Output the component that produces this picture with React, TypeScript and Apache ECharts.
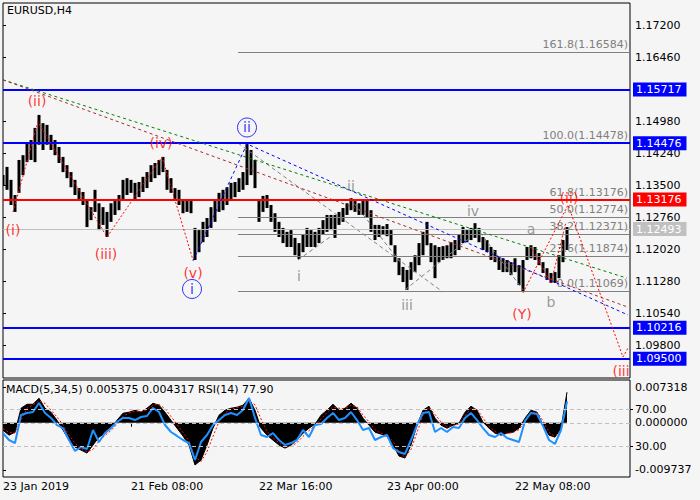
import React, { useEffect, useRef } from 'react';
import * as echarts from 'echarts';

const FONT = '"DejaVu Sans", sans-serif';

// ---- price data (H4 bars, sampled every BAR_STEP bars) ----
const BAR_STEP = 4;
const PRICE_HIGH = [
  1.1374, 1.1393, 1.1363, 1.1328, 1.1409, 1.1420, 1.1448, 1.1455, 1.1483, 1.1513,
  1.1494, 1.1490, 1.1467, 1.1455, 1.1439, 1.1416, 1.1397, 1.1381, 1.1363, 1.1344,
  1.1335, 1.1316, 1.1300, 1.1340, 1.1309, 1.1300, 1.1289, 1.1309, 1.1316, 1.1328,
  1.1363, 1.1367, 1.1363, 1.1356, 1.1358, 1.1370, 1.1381, 1.1397, 1.1402, 1.1409,
  1.1416, 1.1386, 1.1367, 1.1344, 1.1340, 1.1316, 1.1316, 1.1316, 1.1252, 1.1247,
  1.1266, 1.1275, 1.1300, 1.1316, 1.1333, 1.1340, 1.1346, 1.1356, 1.1358, 1.1367,
  1.1381, 1.1448, 1.1432, 1.1409, 1.1316, 1.1326, 1.1328, 1.1305, 1.1286, 1.1266,
  1.1252, 1.1243, 1.1247, 1.1229, 1.1217, 1.1236, 1.1252, 1.1247, 1.1243, 1.1252,
  1.1270, 1.1282, 1.1282, 1.1282, 1.1289, 1.1298, 1.1309, 1.1321, 1.1316, 1.1309,
  1.1316, 1.1316, 1.1293, 1.1259, 1.1259, 1.1256, 1.1261, 1.1247, 1.1212, 1.1182,
  1.1162, 1.1155, 1.1173, 1.1189, 1.1217, 1.1243, 1.1266, 1.1217, 1.1212, 1.1208,
  1.1210, 1.1212, 1.1219, 1.1224, 1.1236, 1.1254, 1.1247, 1.1252, 1.1263, 1.1252,
  1.1231, 1.1224, 1.1208, 1.1201, 1.1185, 1.1182, 1.1178, 1.1173, 1.1182, 1.1166,
  1.1178, 1.1208, 1.1212, 1.1208, 1.1194, 1.1173, 1.1159, 1.1148, 1.1150, 1.1189,
  1.1224, 1.1254,
];
const PRICE_LOW = [
  1.1351, 1.1340, 1.1305, 1.1289, 1.1333, 1.1374, 1.1404, 1.1409, 1.1404, 1.1444,
  1.1432, 1.1444, 1.1432, 1.1420, 1.1402, 1.1381, 1.1367, 1.1346, 1.1328, 1.1316,
  1.1305, 1.1254, 1.1270, 1.1289, 1.1247, 1.1259, 1.1231, 1.1266, 1.1282, 1.1293,
  1.1316, 1.1328, 1.1333, 1.1316, 1.1323, 1.1335, 1.1344, 1.1358, 1.1367, 1.1374,
  1.1381, 1.1340, 1.1333, 1.1316, 1.1305, 1.1286, 1.1289, 1.1286, 1.1178, 1.1196,
  1.1219, 1.1231, 1.1252, 1.1266, 1.1289, 1.1293, 1.1305, 1.1316, 1.1323, 1.1335,
  1.1340, 1.1351, 1.1374, 1.1344, 1.1266, 1.1289, 1.1298, 1.1266, 1.1243, 1.1231,
  1.1217, 1.1208, 1.1208, 1.1189, 1.1180, 1.1196, 1.1208, 1.1208, 1.1208, 1.1217,
  1.1236, 1.1243, 1.1247, 1.1229, 1.1259, 1.1266, 1.1282, 1.1293, 1.1289, 1.1282,
  1.1282, 1.1277, 1.1243, 1.1224, 1.1231, 1.1236, 1.1233, 1.1212, 1.1173, 1.1143,
  1.1127, 1.1109, 1.1132, 1.1150, 1.1166, 1.1189, 1.1212, 1.1173, 1.1136, 1.1173,
  1.1178, 1.1182, 1.1182, 1.1189, 1.1201, 1.1217, 1.1219, 1.1224, 1.1229, 1.1219,
  1.1201, 1.1196, 1.1178, 1.1173, 1.1155, 1.1150, 1.1150, 1.1143, 1.1150, 1.1120,
  1.1104, 1.1178, 1.1182, 1.1178, 1.1166, 1.1148, 1.1132, 1.1125, 1.1125, 1.1136,
  1.1173, 1.1201,
];

// ---- indicator data (sampled every IND_STEP bars) ----
const IND_STEP = 6;
const MACD = [
  -0.00152, -0.00255, -0.00193, 0.003, 0.00382, 0.00382, 0.00506, 0.003, 0.00218, 0.00053,
  -0.00152, -0.00358, -0.00501, -0.00563, -0.00625, -0.0046, -0.00296, -0.00214, -0.00111, 0.00053,
  0.00197, 0.00218, 0.00259, 0.00218, 0.003, 0.00403, 0.00362, 0.00218, 0.00053, -0.00111,
  -0.00275, -0.0046, -0.00871, -0.00769, -0.0046, -0.00111, 0.00156, 0.00259, 0.003, 0.00321,
  0.00362, 0.00506, 0.00259, -0.00111, -0.00255, -0.00358, -0.0046, -0.00522, -0.0046, -0.00358,
  -0.00214, -0.00111, -0.00029, 0.00156, 0.00259, 0.00382, 0.00259, 0.003, 0.00403, 0.003,
  0.00095, -0.00049, -0.00193, -0.00234, -0.00275, -0.0046, -0.00686, -0.00727, -0.0046, -0.00049,
  0.00259, 0.00341, 0.00095, -0.00049, -0.00111, -0.00049, -0.00008, 0.00218, 0.00341, 0.00259,
  0.00012, -0.00111, -0.00214, -0.00255, -0.00214, -0.00193, -0.00111, 0.00095, 0.00259, 0.00218,
  -0.00049, -0.00255, -0.00296, -0.00111, 0.0063,
];
const SIGNAL = [
  -0.0012, -0.002, -0.0021, 0.0005, 0.003, 0.0037, 0.0045, 0.004, 0.0026, 0.0012,
  -0.0004, -0.0025, -0.0042, -0.0053, -0.006, -0.0055, -0.0038, -0.0026, -0.0016, -0.0003,
  0.0013, 0.002, 0.0024, 0.0023, 0.0027, 0.0036, 0.0038, 0.0029, 0.0013, -0.0003,
  -0.002, -0.0038, -0.007, -0.008, -0.006, -0.0028, 0.0002, 0.002, 0.0028, 0.0031,
  0.0034, 0.0045, 0.0037, 0.0008, -0.0018, -0.0031, -0.0041, -0.005, -0.0049, -0.0041,
  -0.0028, -0.0016, -0.0006, 0.0008, 0.0021, 0.0033, 0.003, 0.0029, 0.0036, 0.0033,
  0.0016, 0.0002, -0.0014, -0.0022, -0.0026, -0.0038, -0.006, -0.0071, -0.0055, -0.002,
  0.0015, 0.0032, 0.0017, 0.0002, -0.0008, -0.0006, -0.0002, 0.0014, 0.003, 0.0028,
  0.001, -0.0007, -0.0018, -0.0024, -0.0022, -0.002, -0.0014, 0.0003, 0.002, 0.0022,
  0.0004, -0.002, -0.0028, -0.0017, 0.004317,
];
const RSI = [
  44.5, 37.1, 33.9, 63.6, 65.8, 66.8, 76.4, 65.8, 60.5, 53.0,
  49.8, 37.1, 25.4, 29.7, 27.6, 47.7, 35.0, 44.5, 49.8, 56.2,
  60.5, 60.5, 58.3, 61.5, 62.6, 71.1, 66.8, 53.0, 45.6, 41.4,
  37.1, 33.9, 15.9, 35.0, 42.4, 53.0, 58.3, 63.6, 65.8, 63.6,
  68.9, 81.7, 60.5, 42.4, 40.3, 44.5, 37.1, 31.8, 33.9, 37.1,
  47.7, 40.3, 53.0, 54.1, 60.5, 65.8, 58.3, 60.5, 66.8, 58.3,
  47.7, 49.8, 37.1, 40.3, 42.4, 28.6, 24.4, 22.3, 37.1, 53.0,
  65.8, 66.8, 45.6, 49.8, 45.6, 50.9, 49.8, 60.5, 65.8, 58.3,
  49.8, 42.4, 40.3, 44.5, 39.2, 37.1, 35.0, 57.3, 65.8, 64.7,
  52.0, 37.1, 32.9, 47.7, 77.9,
];

// ---- axes ----
const X_MAX = 627;
const PRICE_MIN = 1.09054;
const PRICE_MAX = 1.17715;
const PRICE_TICKS = [1.098, 1.1054, 1.1128, 1.1202, 1.1276, 1.135, 1.1424, 1.1498, 1.1646, 1.172];
const TIME_TICKS = [0, 128, 256, 384, 512];
const TIME_LABELS = ['23 Jan 2019', '21 Feb 08:00', '22 Mar 16:00', '23 Apr 00:00', '22 May 08:00'];
const MACD_MIN = -0.011181;
const MACD_MAX = 0.008823;
const MACD_TICKS = [-0.009737, 0, 0.007318];
const RSI_MIN = -2.15;
const RSI_MAX = 100.77;
const RSI_LEVELS = [30, 70];

// ---- horizontal levels ----
const LEVEL_BLUE = [1.15717, 1.14476, 1.10216, 1.095];
const LEVEL_RED = [1.13176];
const LEVEL_CURRENT = [1.12493];

// ---- fibonacci ----
const FIB_START = 235;
const FIB_PCT = [161.8, 100.0, 61.8, 50.0, 38.2, 23.6, 0.0];
const FIB_PRICE = [1.16584, 1.14478, 1.13176, 1.12774, 1.12371, 1.11874, 1.11069];

// ---- trend / wave lines: [bar index, price] ----
const GREEN_LINE = [[0, 1.1594], [624, 1.1136]];
const BROWN_LINE = [[0, 1.1594], [625, 1.1069]];
const BLUE_LINE = [[190, 1.1176], [244, 1.1446], [625, 1.1051]];
const RED_WAVE = [[10, 1.1289], [35, 1.1497], [104, 1.1231], [159, 1.1416], [190, 1.1178]];
const RED_PROJ = [[520, 1.1102], [565, 1.1305], [620, 1.0954], [625, 1.0975]];
const RED_PROJ2 = [[528, 1.1208], [548, 1.1125], [563, 1.1266]];
const GRAY_SEGMENTS = [
  [[235, 1.1448], [440, 1.1104]],
  [[295, 1.1178], [327, 1.1231]],
  [[347, 1.1321], [397, 1.1174]],
  [[402, 1.1109], [467, 1.1229]],
  [[477, 1.1242], [520, 1.1109]],
];

// ---- wave labels ----
const RED_LABELS = ['(i)', '(ii)', '(iii)', '(iv)', '(v)', '(Y)', '(ii)', '(iii'];
const RED_LABEL_POS = [[10, 1.1248], [34, 1.1545], [103, 1.1191], [158, 1.1448], [190, 1.1149], [519, 1.1053], [566, 1.1322], [618, 1.0921]];
const GRAY_LABELS = ['i', 'ii', 'iii', 'iv', 'a', 'b'];
const GRAY_LABEL_POS = [[296, 1.1141], [348, 1.1348], [404, 1.1074], [470, 1.1291], [528, 1.1250], [548, 1.1082]];
const CIRCLE_LABELS = ['i', 'ii'];
const CIRCLE_LABEL_POS = [[189, 1.1111], [244, 1.1484]];

function dotted(data: number[][], color: string, dash: number[], z = 5) {
  return {
    type: 'line',
    xAxisIndex: 0,
    yAxisIndex: 0,
    data,
    symbol: 'none',
    silent: true,
    z,
    lineStyle: { color, width: 1, type: dash },
  };
}

function levelItem(v: number, color: string, width: number) {
  return [
    {
      coord: [0, v],
      lineStyle: { color, width, type: 'solid' },
      label: {
        show: true,
        position: 'end',
        distance: 3,
        formatter: v.toFixed(5),
        color: '#ffffff',
        backgroundColor: color,
        padding: [2, 5, 1, 3],
        fontSize: 11,
        fontFamily: FONT,
      },
    },
    { coord: [X_MAX, v] },
  ];
}

export default function App() {
  const ref = useRef<HTMLDivElement>(null);

  useEffect(() => {
    if (!ref.current) return;
    const chart = echarts.init(ref.current, null, { renderer: 'svg' });

    const priceData = PRICE_HIGH.map((h, i) => [i * BAR_STEP, PRICE_LOW[i], h]);
    const macdData = MACD.map((v, i) => [i * IND_STEP, v]);
    const signalData = SIGNAL.map((v, i) => [i * IND_STEP, v]);
    const rsiData = RSI.map((v, i) => [i * IND_STEP, v]);

    const option: any = {
      animation: false,
      backgroundColor: '#f5f5f5',
      grid: [
        { left: 3, top: 3, width: 627, height: 375, show: true, borderColor: '#000', borderWidth: 1, backgroundColor: 'transparent' },
        { left: 3, top: 380, width: 627, height: 97, show: true, borderColor: '#000', borderWidth: 1, backgroundColor: 'transparent' },
      ],
      xAxis: [
        { type: 'value', gridIndex: 0, min: 0, max: X_MAX, show: false },
        {
          type: 'value', gridIndex: 1, min: 0, max: X_MAX,
          axisLine: { show: false },
          splitLine: { show: false },
          axisTick: { show: true, length: 4, customValues: TIME_TICKS, lineStyle: { color: '#000' } },
          axisLabel: {
            show: true, customValues: TIME_TICKS, align: 'left', margin: 4,
            color: '#000', fontSize: 11, fontFamily: FONT,
            formatter: (v: number) => TIME_LABELS[TIME_TICKS.indexOf(v)] ?? '',
          },
        },
      ],
      yAxis: [
        {
          type: 'value', gridIndex: 0, position: 'right', min: PRICE_MIN, max: PRICE_MAX,
          axisLine: { show: false }, splitLine: { show: false },
          axisTick: { show: true, length: 3, customValues: PRICE_TICKS, lineStyle: { color: '#000' } },
          axisLabel: {
            show: true, customValues: PRICE_TICKS, margin: 5, color: '#000', fontSize: 11, fontFamily: FONT,
            formatter: (v: number) => v.toFixed(5),
          },
        },
        {
          type: 'value', gridIndex: 1, position: 'right', min: MACD_MIN, max: MACD_MAX,
          axisLine: { show: false }, splitLine: { show: false },
          axisTick: { show: true, length: 3, customValues: MACD_TICKS, lineStyle: { color: '#000' } },
          axisLabel: {
            show: true, customValues: MACD_TICKS, margin: 5, color: '#000', fontSize: 11, fontFamily: FONT,
            formatter: (v: number) => v.toFixed(6),
          },
        },
        {
          type: 'value', gridIndex: 1, position: 'right', min: RSI_MIN, max: RSI_MAX,
          axisLine: { show: false }, splitLine: { show: false },
          axisTick: { show: true, length: 3, customValues: RSI_LEVELS, lineStyle: { color: '#000' } },
          axisLabel: {
            show: true, customValues: RSI_LEVELS, margin: 5, color: '#000', fontSize: 11, fontFamily: FONT,
            formatter: (v: number) => v.toFixed(2),
          },
        },
      ],
      graphic: [
        { type: 'text', left: 7, top: 5, z: 100, style: { text: 'EURUSD,H4', font: `11px ${FONT}`, fill: '#000' } },
        { type: 'text', left: 6, top: 384, z: 100, style: { text: 'MACD(5,34,5) 0.005375 0.004317 RSI(14) 77.90', font: `11px ${FONT}`, fill: '#000' } },
      ],
      series: [
        // price bars
        {
          type: 'custom',
          xAxisIndex: 0,
          yAxisIndex: 0,
          data: priceData,
          encode: { x: 0, y: [1, 2] },
          silent: true,
          z: 2,
          clip: true,
          renderItem: (params: any, api: any) => {
            const x = api.value(0);
            const lo = api.coord([x, api.value(1)]);
            const hi = api.coord([x, api.value(2)]);
            return {
              type: 'rect',
              shape: { x: lo[0] - 1.5, y: hi[1], width: 3, height: Math.max(1, lo[1] - hi[1]) },
              style: { fill: '#000' },
            };
          },
        },
        // fibonacci levels
        {
          type: 'line', xAxisIndex: 0, yAxisIndex: 0, data: [], silent: true, z: 3,
          markLine: {
            silent: true, symbol: 'none', animation: false,
            data: FIB_PRICE.map((p, i) => [
              {
                coord: [FIB_START, p],
                lineStyle: { color: '#808080', width: 1, type: 'solid' },
                label: {
                  show: true, position: 'insideEndTop', distance: 2,
                  formatter: `${FIB_PCT[i].toFixed(1)}(${p.toFixed(5)})`,
                  color: '#808080', fontSize: 11, fontFamily: FONT,
                },
              },
              { coord: [X_MAX, p] },
            ]),
          },
        },
        // horizontal levels with price boxes
        {
          type: 'line', xAxisIndex: 0, yAxisIndex: 0, data: [], silent: true, z: 4,
          markLine: {
            silent: true, symbol: 'none', animation: false,
            data: [
              ...LEVEL_CURRENT.map((v) => levelItem(v, '#c0c0c0', 1)),
              ...LEVEL_BLUE.map((v) => levelItem(v, '#0000ff', 2)),
              ...LEVEL_RED.map((v) => levelItem(v, '#ff0000', 2)),
            ],
          },
        },
        dotted(GREEN_LINE, '#008000', [3, 3]),
        dotted(BROWN_LINE, '#a52a2a', [3, 3]),
        dotted(BLUE_LINE, '#0000ff', [3, 3]),
        dotted(RED_WAVE, '#ff0000', [2, 2]),
        dotted(RED_PROJ, '#ff0000', [2, 2]),
        dotted(RED_PROJ2, '#ff0000', [2, 2]),
        ...GRAY_SEGMENTS.map((seg) => dotted(seg, '#808080', [4, 3], 4)),
        // wave labels
        {
          type: 'scatter', xAxisIndex: 0, yAxisIndex: 0, silent: true, z: 10,
          symbolSize: 1, itemStyle: { color: 'rgba(0,0,0,0)' },
          data: RED_LABEL_POS.map((p, i) => ({ value: p, label: { formatter: RED_LABELS[i] } })),
          label: { show: true, position: 'inside', color: '#ff0000', fontSize: 14, fontFamily: FONT },
        },
        {
          type: 'scatter', xAxisIndex: 0, yAxisIndex: 0, silent: true, z: 10,
          symbolSize: 1, itemStyle: { color: 'rgba(0,0,0,0)' },
          data: GRAY_LABEL_POS.map((p, i) => ({ value: p, label: { formatter: GRAY_LABELS[i] } })),
          label: { show: true, position: 'inside', color: '#808080', fontSize: 14, fontFamily: FONT },
        },
        {
          type: 'scatter', xAxisIndex: 0, yAxisIndex: 0, silent: true, z: 10,
          symbol: 'circle', symbolSize: 19,
          itemStyle: { color: 'rgba(0,0,0,0)', borderColor: '#0000ff', borderWidth: 1 },
          data: CIRCLE_LABEL_POS.map((p, i) => ({ value: p, label: { formatter: CIRCLE_LABELS[i] } })),
          label: { show: true, position: 'inside', color: '#0000ff', fontSize: 14, fontFamily: FONT },
        },
        // MACD histogram
        {
          type: 'line', xAxisIndex: 1, yAxisIndex: 1, data: macdData, symbol: 'none', silent: true, z: 2,
          lineStyle: { color: '#000', width: 1 },
          areaStyle: { color: '#000', opacity: 1, origin: 0 },
          markLine: {
            silent: true, symbol: 'none', animation: false, label: { show: false },
            lineStyle: { color: '#c0c0c0', width: 1, type: [4, 3] },
            data: [{ yAxis: 0 }],
          },
        },
        // signal
        {
          type: 'line', xAxisIndex: 1, yAxisIndex: 1, data: signalData, symbol: 'none', silent: true, z: 3,
          lineStyle: { color: '#ff0000', width: 1, type: [2, 2] },
        },
        // RSI
        {
          type: 'line', xAxisIndex: 1, yAxisIndex: 2, data: rsiData, symbol: 'none', silent: true, z: 4,
          lineStyle: { color: '#1e90ff', width: 2 },
          markLine: {
            silent: true, symbol: 'none', animation: false, label: { show: false },
            lineStyle: { color: '#c0c0c0', width: 1, type: [4, 3] },
            data: RSI_LEVELS.map((v) => ({ yAxis: v })),
          },
        },
      ],
    };

    chart.setOption(option);
    return () => chart.dispose();
  }, []);

  return <div ref={ref} style={{ position: 'absolute', left: 0, top: 0, width: 700, height: 500 }} />;
}
